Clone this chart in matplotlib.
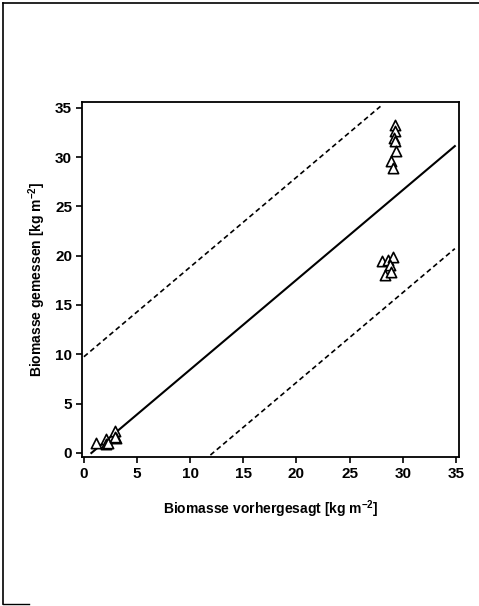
import numpy as np
import matplotlib.pyplot as plt
from matplotlib.lines import Line2D

plt.rcParams["font.family"] = ["Liberation Sans", "DejaVu Sans"]
plt.rcParams["mathtext.fontset"] = "custom"
plt.rcParams["mathtext.rm"] = "Liberation Sans:bold"
plt.rcParams["mathtext.bf"] = "Liberation Sans:bold"

# Messwerte (vorhergesagt / gemessen)
pred = [1.1, 2.1, 2.1, 2.3, 2.9, 3.0, 2.9,
        29.3, 29.3, 29.2, 29.3, 29.4, 28.9, 29.1,
        28.0, 28.6, 29.1, 28.8, 28.3, 28.9]
meas = [1.0, 1.4, 0.9, 1.0, 2.2, 1.5, 1.6,
        33.2, 32.6, 31.9, 31.6, 30.6, 29.6, 28.9,
        19.5, 19.6, 19.9, 19.1, 18.0, 18.3]

# Regressionsgerade und Grenzen
slope = 0.91
intercept = -0.65
band = 10.4
x_fit = [0.7, 34.9]
x_upper = [0.0, 27.9]
x_lower = [11.9, 34.9]

fig = plt.figure(figsize=(4.79, 6.06), dpi=100)
ax = fig.add_axes([0.171, 0.246, 0.787, 0.586])

ax.plot(x_fit, [slope * x + intercept for x in x_fit], color="black", lw=1.5)
ax.plot(x_upper, [slope * x + intercept + band for x in x_upper],
        color="black", lw=1.2, linestyle=(0, (3, 2)))
ax.plot(x_lower, [slope * x + intercept - band for x in x_lower],
        color="black", lw=1.2, linestyle=(0, (3, 2)))
ax.scatter(pred, meas, marker="^", s=55, facecolors="white",
           edgecolors="black", linewidths=1.2, zorder=3)

ax.set_xlim(-0.19, 35.28)
ax.set_ylim(-0.41, 35.6)
ax.set_xticks(range(0, 36, 5))
ax.set_yticks(range(0, 36, 5))
ax.tick_params(direction="out", length=4, width=1.2, labelsize=11, pad=3)
for lab in ax.get_xticklabels() + ax.get_yticklabels():
    lab.set_fontweight("bold")
for sp in ax.spines.values():
    sp.set_linewidth(1.3)

ax.set_xlabel("Biomasse vorhergesagt [kg m$^{\\mathbf{-2}}$]", fontsize=10,
              fontweight="bold", labelpad=13)
ax.set_ylabel("Biomasse gemessen [kg m$^{\\mathbf{-2}}$]", fontsize=10,
              fontweight="bold", labelpad=5)

# Seitenrahmen (Scan)
fig.add_artist(Line2D([0.006, 0.006], [0.003, 0.995], color="black", lw=1.2))
fig.add_artist(Line2D([0.006, 1.0], [0.995, 0.995], color="black", lw=1.2))
fig.add_artist(Line2D([0.006, 0.06], [0.003, 0.003], color="black", lw=1.0))

fig.savefig("out.png", dpi=100)
